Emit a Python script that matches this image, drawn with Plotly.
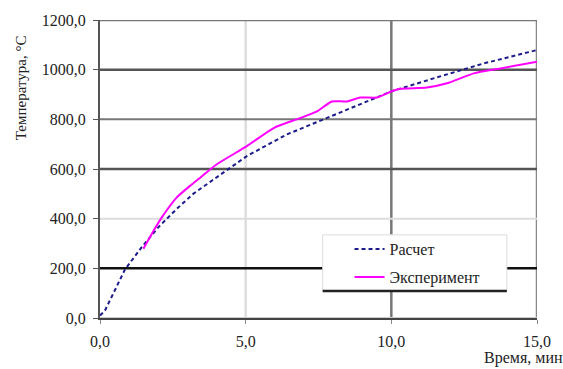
import plotly.graph_objects as go

# Data
calc_t = [0.0, 0.17, 0.86, 1.43, 2.0, 2.63, 3.2, 3.84, 5.04, 6.41, 7.79, 8.93, 9.99, 11.45, 13.17, 15.0]
calc_T = [10, 30, 196, 285, 365, 439, 500, 552, 652, 739, 805, 859, 912, 965, 1025, 1079]

exp_t = [1.49, 1.78, 2.12, 2.63, 3.09, 3.44, 4.01, 5.04, 5.96, 6.87, 7.45, 7.96, 8.48, 8.93, 9.51,
         9.99, 10.3, 11.22, 11.91, 12.83, 13.74, 15.0]
exp_T = [279, 339, 405, 485, 532, 565, 619, 692, 765, 805, 832, 872, 872, 888, 888,
         912, 923, 928, 945, 985, 1005, 1032]

x_ticks = [0, 5, 10, 15]
y_ticks = [0, 200, 400, 600, 800, 1000, 1200]
x_grid_colors = ["#cccccc", "#dddddd", "#777777", "#888888"]
y_grid_colors = ["#cccccc", "#111111", "#dddddd", "#555555", "#777777", "#555555", "#777777"]
y_grid_widths = [2, 2.5, 2, 2.5, 2, 2.5, 2.5]

fig = go.Figure()
fig.add_trace(go.Scatter(x=calc_t, y=calc_T, mode="lines", name="Расчет",
                         legendgroup="a",
                         line=dict(color="#1c1c8a", width=2, dash="4px,3px")))
fig.add_trace(go.Scatter(x=exp_t, y=exp_T, mode="lines", name="Эксперимент",
                         legendgroup="b",
                         line=dict(color="#ff00ff", width=2, shape="spline", smoothing=0.6)))

shapes = []
for v, c in zip(x_ticks[1:], x_grid_colors[1:]):
    shapes.append(dict(type="line", xref="x", yref="y", x0=v, x1=v, y0=0, y1=1200,
                       line=dict(color=c, width=2.5), layer="below"))
for v, c, w in zip(y_ticks, y_grid_colors, y_grid_widths):
    shapes.append(dict(type="line", xref="x", yref="y", x0=0, x1=15, y0=v, y1=v,
                       line=dict(color=c, width=w), layer="below"))
# legend box
shapes.append(dict(type="rect", xref="paper", yref="paper", x0=0.5096, x1=0.931, y0=0.0907, y1=0.279,
                   fillcolor="white", line=dict(color="#dddddd", width=1), layer="above"))
shapes.append(dict(type="line", xref="paper", yref="paper", x0=0.5096, x1=0.931, y0=0.0907, y1=0.0907,
                   line=dict(color="#222222", width=2.5), layer="above"))

FAM = "Liberation Serif"
font = dict(family=FAM, size=16, color="#222222")

fig.update_layout(
    width=563, height=369,
    margin=dict(l=100, r=26, t=17, b=51),
    paper_bgcolor="white", plot_bgcolor="white",
    font=font,
    separators=", ",
    showlegend=True,
    legend=dict(x=0.571, y=0.288, xanchor="left", yanchor="top",
                bgcolor="rgba(0,0,0,0)", borderwidth=0,
                tracegroupgap=4, traceorder="grouped", itemwidth=30,
                font=dict(family=FAM, size=16, color="#222222")),
    shapes=shapes,
    xaxis=dict(range=[0, 15], tickvals=x_ticks, tickformat=".1f", showgrid=False, zeroline=False,
               showline=True, linecolor="#444444", linewidth=2,
               tickfont=dict(family=FAM, size=16, color="#222222"),
               ticks="outside", ticklen=4, tickcolor="#888888", ticklabelstandoff=4),
    yaxis=dict(range=[0, 1200], tickvals=y_ticks, tickformat=".1f", showgrid=False, zeroline=False,
               showline=True, linecolor="#555555", linewidth=2,
               tickfont=dict(family=FAM, size=16, color="#222222"),
               ticks="outside", ticklen=5, tickcolor="#555555", ticklabelstandoff=4),
    annotations=[
        dict(text="Температура, °С", xref="paper", yref="paper", x=-0.181, y=0.774,
             textangle=-90, showarrow=False, font=dict(family=FAM, size=15, color="#222222"),
             xanchor="center", yanchor="middle"),
        dict(text="Время, мин", xref="paper", yref="paper", x=0.968, y=-0.133,
             showarrow=False, font=font, xanchor="center", yanchor="middle"),
    ],
)

fig.write_html("out.html", config={"displayModeBar": False},
               post_script="document.body.style.margin='0';")
